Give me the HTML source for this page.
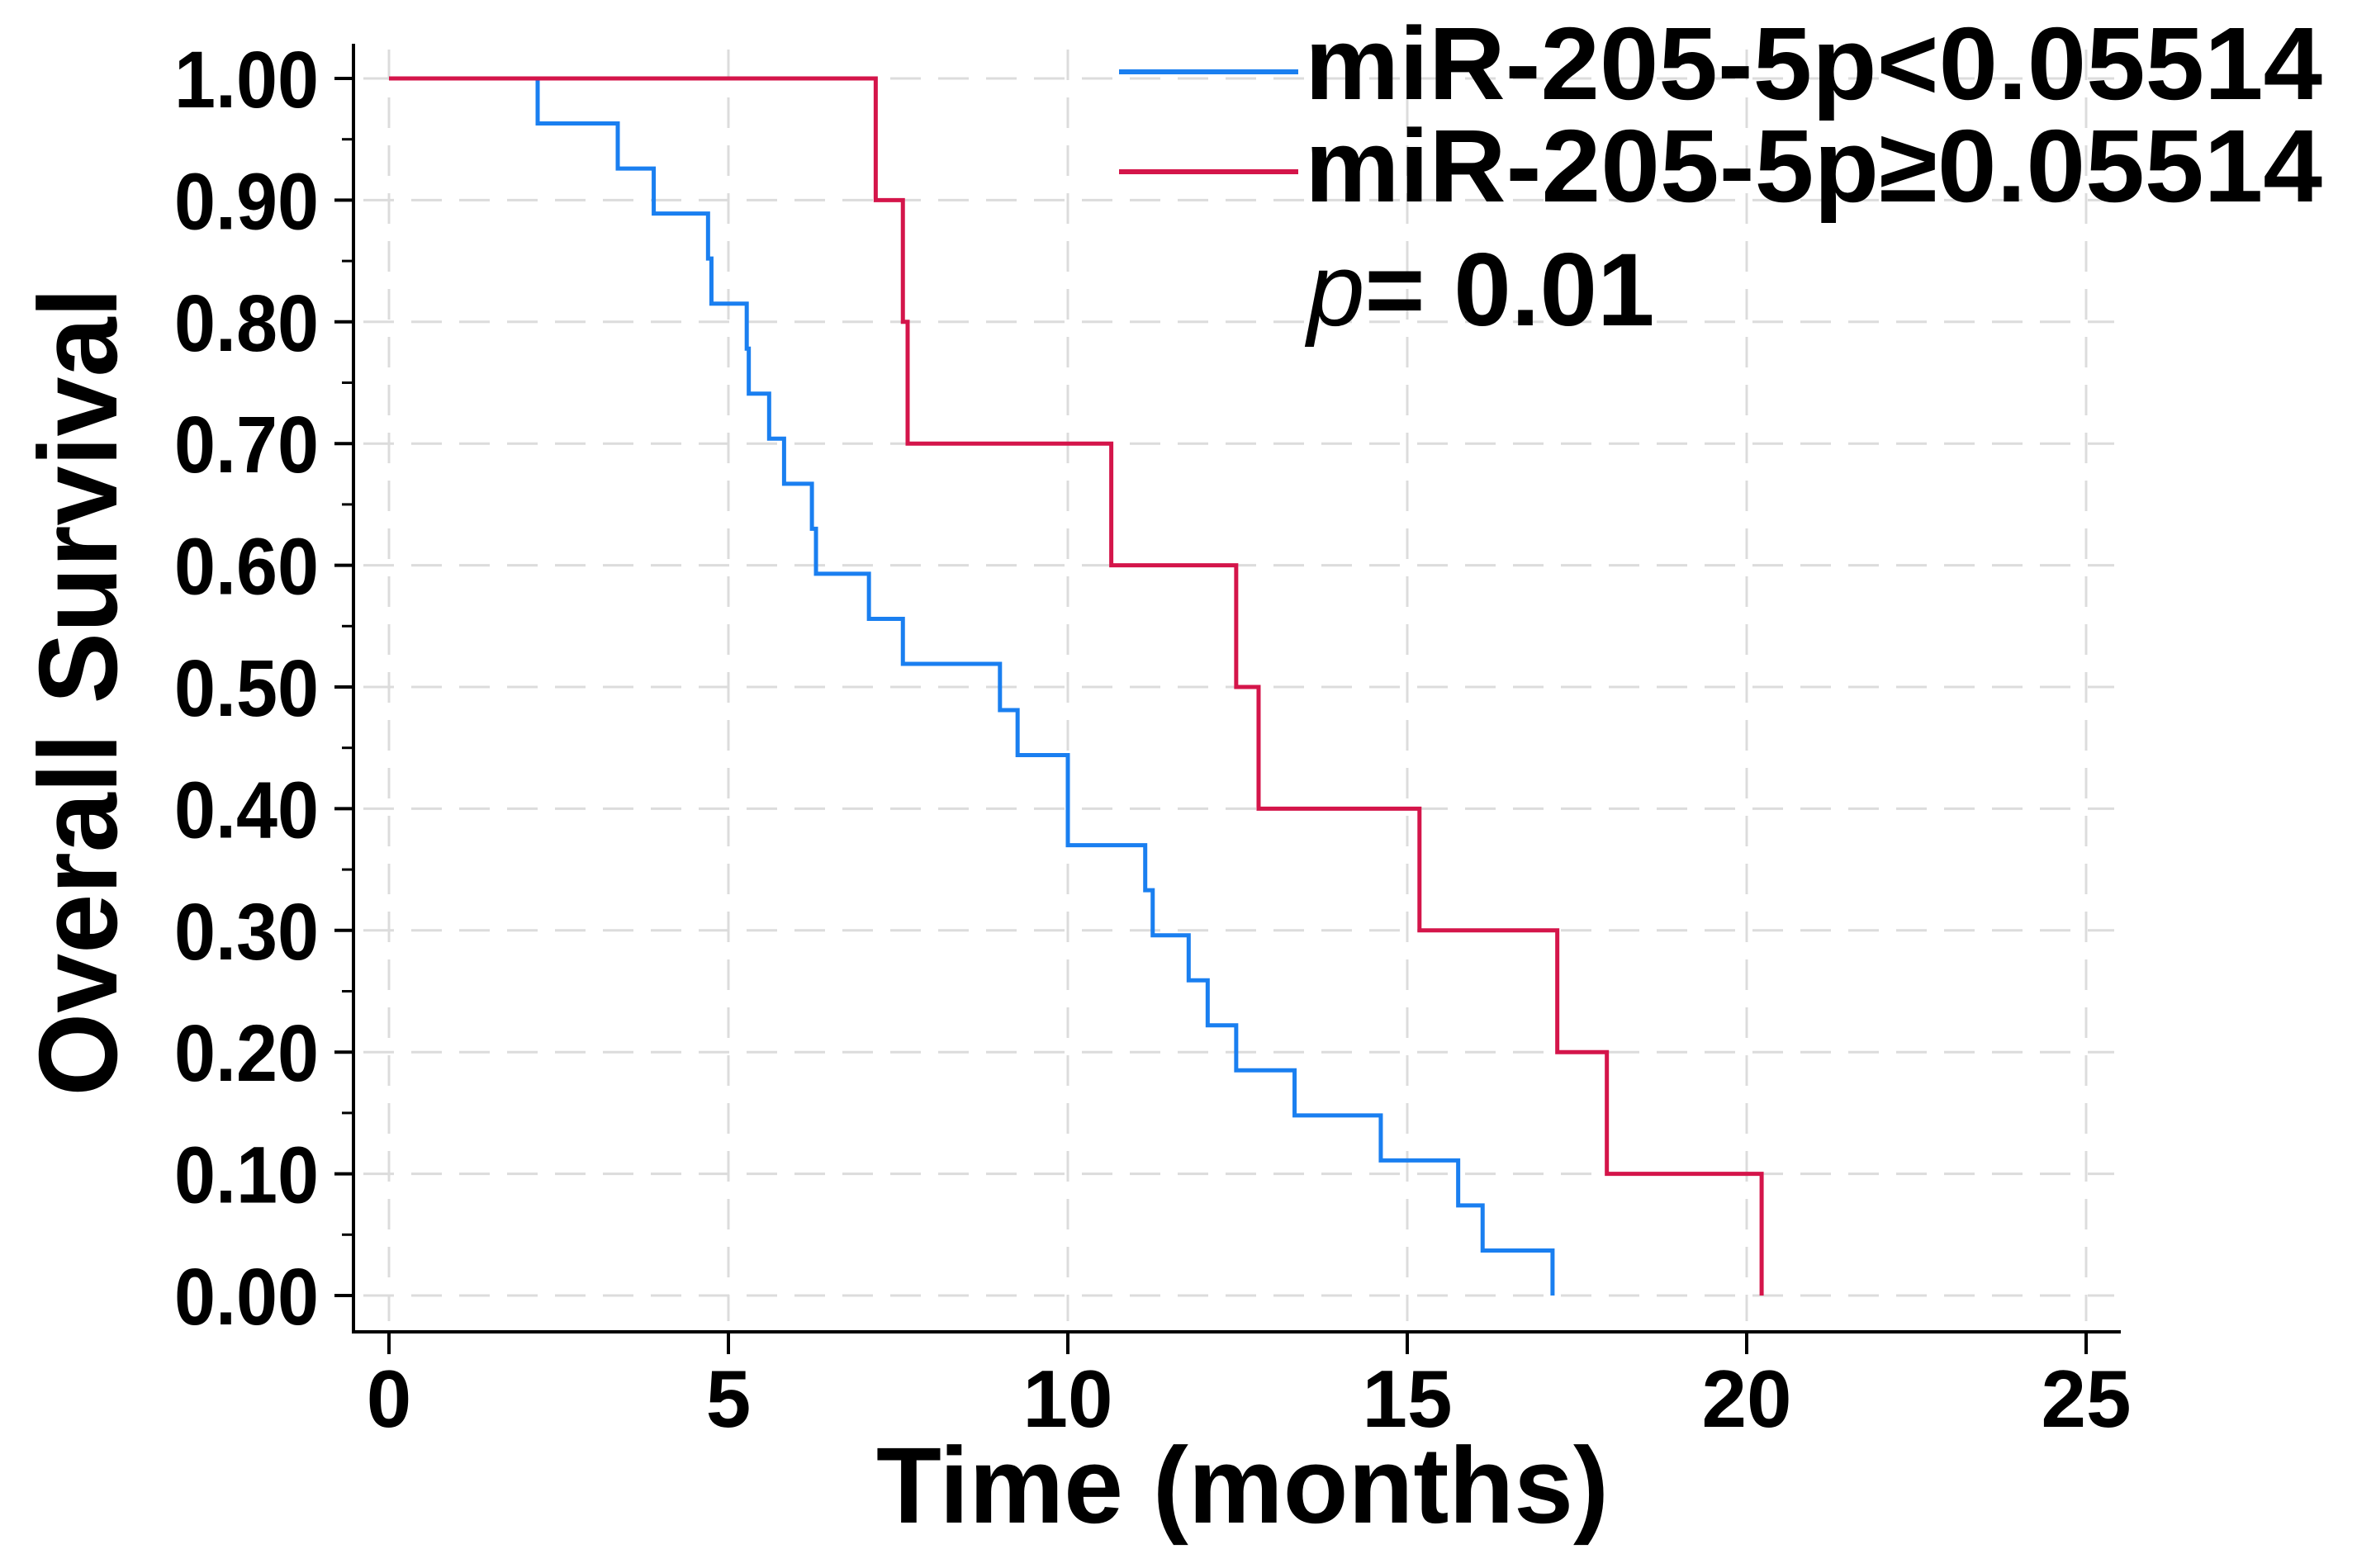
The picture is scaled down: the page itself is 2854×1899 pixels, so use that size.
<!DOCTYPE html>
<html><head><meta charset="utf-8"><style>
html,body{margin:0;padding:0;background:#fff;}
svg{display:block;font-family:"Liberation Sans",Arial,sans-serif;}
</style></head><body>
<svg id="chart" width="2854" height="1899" viewBox="0 0 2854 1899" xmlns="http://www.w3.org/2000/svg">
<g id="grid"></g>
<g id="axes"></g>
<g id="series"></g>
<text x="1061" y="1844" font-size="131" font-weight="bold" textLength="887" lengthAdjust="spacingAndGlyphs">Time (months)</text>
<text transform="translate(141,838) rotate(-90)" text-anchor="middle" font-size="135" font-weight="bold" textLength="979" lengthAdjust="spacingAndGlyphs">Overall Survival</text>
<g>
<line x1="1355" y1="87" x2="1572" y2="87" stroke="#1a7ff0" stroke-width="6"/>
<text x="1580" y="120" font-size="125" font-weight="bold" textLength="1232" lengthAdjust="spacingAndGlyphs">miR-205-5p&lt;0.05514</text>
<line x1="1355" y1="208" x2="1572" y2="208" stroke="#d4154a" stroke-width="6"/>
<text x="1580" y="244" font-size="125" font-weight="bold" textLength="1232" lengthAdjust="spacingAndGlyphs">miR-205-5p≥0.05514</text>
</g>
<text x="1583" y="394" font-size="125"><tspan font-style="italic">p</tspan><tspan font-weight="bold">= 0.01</tspan></text>
</svg>
<script>
const xTicks = [0, 5, 10, 15, 20, 25];
const yTicks = [0, 0.1, 0.2, 0.3, 0.4, 0.5, 0.6, 0.7, 0.8, 0.9, 1.0];
const yTickLabels = ["0.00","0.10","0.20","0.30","0.40","0.50","0.60","0.70","0.80","0.90","1.00"];
const lowTimes = [0, 2.19, 3.37, 3.90, 4.70, 4.75, 5.27, 5.30, 5.60, 5.82, 6.23, 6.29, 7.07, 7.57, 9.00, 9.26, 10.0, 11.14, 11.25, 11.78, 12.06, 12.48, 13.34, 14.61, 15.75, 16.11, 17.14];
const lowSurv = [1.0, 0.963, 0.926, 0.889, 0.852, 0.815, 0.778, 0.741, 0.704, 0.667, 0.630, 0.593, 0.556, 0.519, 0.481, 0.444, 0.370, 0.333, 0.296, 0.259, 0.222, 0.185, 0.148, 0.111, 0.074, 0.037, 0.0];
const highTimes = [0, 7.17, 7.57, 7.64, 10.64, 12.48, 12.81, 15.18, 17.21, 17.94, 20.22];
const highSurv = [1.0, 0.9, 0.8, 0.7, 0.6, 0.5, 0.4, 0.3, 0.2, 0.1, 0.0];

const NS = "http://www.w3.org/2000/svg";
const X0 = 471, XPX = 82.2;
const Y0 = 1569, Y1 = 95;
function sx(t){ return X0 + t * XPX; }
function sy(v){ return Y0 - v * (Y0 - Y1); }
function mk(tag, attrs, parent){
  const e = document.createElementNS(NS, tag);
  for (const k in attrs) e.setAttribute(k, attrs[k]);
  parent.appendChild(e); return e;
}
const grid = document.getElementById('grid');
const axes = document.getElementById('axes');
const series = document.getElementById('series');

xTicks.forEach(t => {
  const g = mk('line', {x1: sx(t), x2: sx(t), y1: 60, y2: 1600, stroke: '#dcdcdc', 'stroke-width': 3, 'stroke-dasharray': '37 21'}, grid);
  
  
  const tk = mk('line', {x1: sx(t), x2: sx(t), y1: 1613, y2: 1640, stroke: '#000', 'stroke-width': 4}, axes);
  
  
  const lb = mk('text', {x: sx(t), y: 1728, 'text-anchor': 'middle', 'font-size': 98, 'font-weight': 'bold'}, axes);
  lb.textContent = String(t);
  
  
});
yTicks.forEach((v, i) => {
  const g = mk('line', {x1: 440, x2: 2560, y1: sy(v), y2: sy(v), stroke: '#dcdcdc', 'stroke-width': 3, 'stroke-dasharray': '37 21'}, grid);
  
  
  const tk = mk('line', {x1: 405, x2: 428, y1: sy(v), y2: sy(v), stroke: '#000', 'stroke-width': 4}, axes);
  
  
  if (i < yTicks.length - 1) {
    const mt = mk('line', {x1: 414, x2: 428, y1: sy(v + 0.05), y2: sy(v + 0.05), stroke: '#000', 'stroke-width': 3}, axes);
    
    
  }
  const lb = mk('text', {x: 386, y: sy(v) + 35, 'text-anchor': 'end', 'font-size': 97, 'font-weight': 'bold', textLength: 175, lengthAdjust: 'spacingAndGlyphs'}, axes);
  lb.textContent = yTickLabels[i];
  
  
});
const ya = mk('line', {x1: 428, x2: 428, y1: 53, y2: 1613, stroke: '#000', 'stroke-width': 4}, axes);


const xa = mk('line', {x1: 426, x2: 2568, y1: 1613, y2: 1613, stroke: '#000', 'stroke-width': 4}, axes);



function stepPath(times, surv){
  let d = 'M' + sx(times[0]) + ' ' + sy(surv[0]);
  for (let i = 1; i < times.length; i++) {
    d += ' H' + sx(times[i]) + ' V' + sy(surv[i]);
  }
  return d;
}
const pl = mk('path', {d: stepPath(lowTimes, lowSurv), fill: 'none', stroke: '#1a7ff0', 'stroke-width': 5}, series);


const ph = mk('path', {d: stepPath(highTimes, highSurv), fill: 'none', stroke: '#d4154a', 'stroke-width': 5}, series);


</script>
</body></html>
